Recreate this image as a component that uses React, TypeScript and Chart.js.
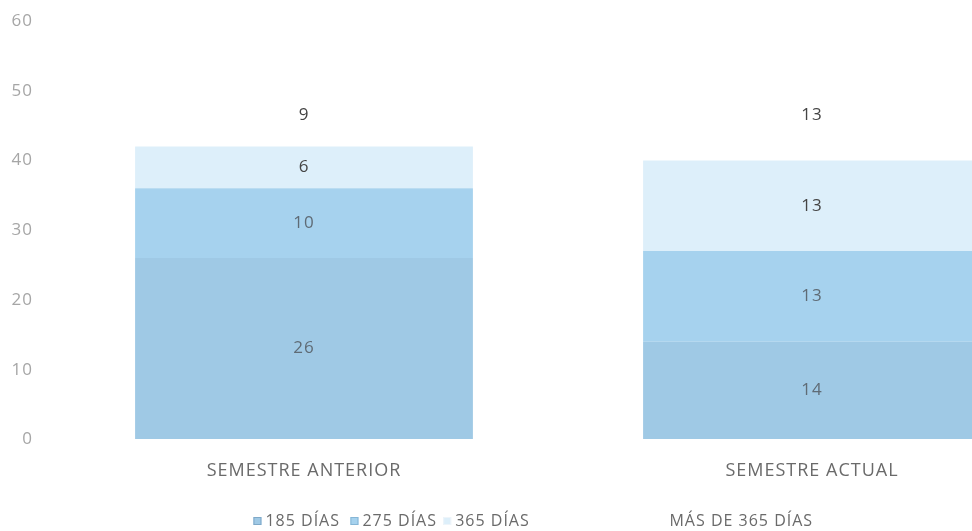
import React, { useEffect, useRef } from "react";
import { Chart, registerables } from "chart.js";

Chart.register(...registerables);

const categories = ["SEMESTRE ANTERIOR", "SEMESTRE ACTUAL"];
const seriesNames = ["185 DÍAS", "275 DÍAS", "365 DÍAS", "MÁS DE 365 DÍAS"];
const values185 = [26, 14];
const values275 = [10, 13];
const values365 = [6, 13];
const valuesMas365 = [9, 13];
const seriesColors = ["#9fc9e5", "#a6d2ee", "#ddeffa", "#ffffff"];
const legendBorders = ["#7fa9c8", "#86b6d6", "#eef5fa", "#ffffff"];
const yTicks = [0, 10, 20, 30, 40, 50, 60];

const FONT = "'Open Sans', 'DejaVu Sans', sans-serif";

const spacing = {
  id: "spacing",
  beforeInit(chart: any) {
    chart.ctx.letterSpacing = "1px";
  },
  beforeUpdate(chart: any) {
    chart.ctx.letterSpacing = "1px";
  },
  beforeDraw(chart: any) {
    chart.ctx.letterSpacing = "1px";
  },
};

const valueLabels = {
  id: "valueLabels",
  afterDatasetsDraw(chart: any) {
    const ctx = chart.ctx;
    ctx.save();
    ctx.letterSpacing = "1px";
    ctx.font = `17px ${FONT}`;
    ctx.textAlign = "center";
    ctx.textBaseline = "middle";
    chart.data.datasets.forEach((ds: any, i: number) => {
      const meta = chart.getDatasetMeta(i);
      meta.data.forEach((bar: any, j: number) => {
        const v = ds.data[j];
        const cy = (bar.y + bar.base) / 2;
        ctx.fillStyle = i <= 1 ? "#5f6b75" : "#444444";
        ctx.fillText(String(v), bar.x, cy);
      });
    });
    ctx.restore();
  },
};

const customLegend = {
  id: "customLegend",
  afterDraw(chart: any) {
    const ctx = chart.ctx;
    const w = chart.width;
    const textStarts = [0.249, 0.34, 0.427, 0.628];
    const y = 521;
    ctx.save();
    ctx.letterSpacing = "1px";
    ctx.font = `16px ${FONT}`;
    ctx.textBaseline = "middle";
    ctx.textAlign = "left";
    seriesNames.forEach((name, i) => {
      const tx = textStarts[i] * w;
      ctx.fillStyle = seriesColors[i];
      ctx.strokeStyle = legendBorders[i];
      ctx.lineWidth = 1;
      ctx.fillRect(tx - 12, y - 4, 8, 8);
      ctx.strokeRect(tx - 11.5, y - 3.5, 7, 7);
      ctx.fillStyle = "#6a6a6a";
      ctx.fillText(name, tx, y);
    });
    ctx.restore();
  },
};

export default function App() {
  const ref = useRef<HTMLCanvasElement | null>(null);
  useEffect(() => {
    if (!ref.current) return;
    const data = [values185, values275, values365, valuesMas365];
    const chart = new Chart(ref.current, {
      type: "bar",
      data: {
        labels: categories,
        datasets: seriesNames.map((name, i) => ({
          label: name,
          data: data[i],
          backgroundColor: seriesColors[i],
          borderWidth: 0,
          categoryPercentage: 1,
          barPercentage: 0.665,
        })),
      },
      options: {
        responsive: false,
        animation: false,
        layout: { padding: { top: 21, bottom: 28, left: 0, right: 0 } },
        plugins: {
          legend: { display: false },
          tooltip: { enabled: false },
        },
        scales: {
          x: {
            stacked: true,
            grid: { display: false, drawTicks: false },
            border: { display: false },
            ticks: {
              color: "#6a6a6a",
              font: { family: FONT, size: 18 },
              padding: 21,
            },
          },
          y: {
            stacked: true,
            min: 0,
            max: 60,
            grid: {
              display: true,
              drawOnChartArea: false,
              drawTicks: true,
              tickLength: 17,
              color: "rgba(0,0,0,0)",
            },
            border: { display: false },
            afterFit(scale: any) {
              scale.width = 50;
            },
            afterBuildTicks(scale: any) {
              scale.ticks = yTicks.map((v) => ({ value: v }));
            },
            ticks: {
              color: "#a6a6a6",
              font: { family: FONT, size: 17 },
              padding: 0,
            },
          },
        },
      },
      plugins: [spacing, valueLabels, customLegend],
    });
    return () => chart.destroy();
  }, []);
  return (
    <div
      style={{
        position: "fixed",
        left: 0,
        top: 0,
        width: 972,
        height: 531,
        overflow: "hidden",
        background: "#ffffff",
      }}
    >
      <canvas ref={ref} width={1066} height={531} style={{ display: "block" }} />
    </div>
  );
}
